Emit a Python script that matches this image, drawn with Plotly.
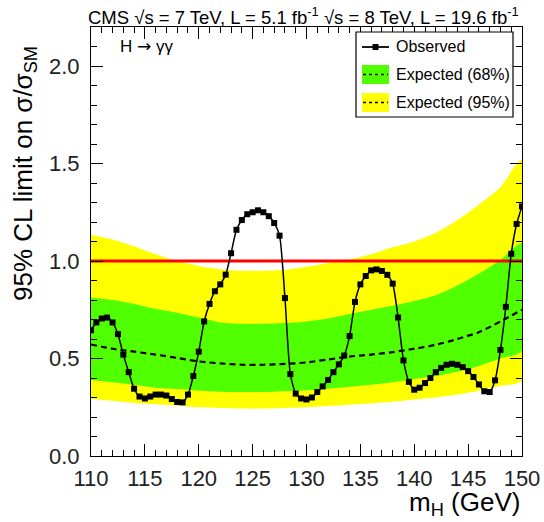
import plotly.graph_objects as go

# ---------------- data ----------------
mass_obs = [110 + 0.5 * i for i in range(81)]
observed = [
    0.645, 0.685, 0.705, 0.71, 0.685, 0.625, 0.52, 0.43, 0.345, 0.305,
    0.295, 0.305, 0.315, 0.315, 0.31, 0.292, 0.277, 0.275, 0.315, 0.41,
    0.535, 0.69, 0.78, 0.845, 0.88, 0.93, 1.04, 1.16, 1.21, 1.24,
    1.25, 1.26, 1.25, 1.23, 1.195, 1.13, 0.81, 0.42, 0.32, 0.295,
    0.29, 0.30, 0.328, 0.357, 0.39, 0.43, 0.47, 0.515, 0.615, 0.79,
    0.88, 0.923, 0.952, 0.957, 0.949, 0.929, 0.884, 0.71, 0.49, 0.38,
    0.34, 0.35, 0.374, 0.40, 0.43, 0.452, 0.468, 0.473, 0.468, 0.456,
    0.435, 0.405, 0.367, 0.332, 0.328, 0.388, 0.544, 0.765, 1.037, 1.19,
    1.28,
]

mass_exp = [110, 112, 114, 116, 118, 120, 122, 124, 126, 128, 130,
            132, 134, 136, 138, 140, 142, 144, 146, 148, 150]
exp_median = [0.572, 0.55, 0.535, 0.52, 0.503, 0.485, 0.475, 0.468, 0.468, 0.472, 0.48,
              0.495, 0.51, 0.52, 0.533, 0.55, 0.57, 0.60, 0.635, 0.69, 0.75]
exp_68_hi = [0.813, 0.80, 0.78, 0.755, 0.735, 0.71, 0.685, 0.678, 0.678, 0.682, 0.69,
             0.705, 0.728, 0.75, 0.77, 0.795, 0.825, 0.875, 0.935, 1.005, 1.09]
exp_68_lo = [0.39, 0.378, 0.365, 0.35, 0.343, 0.335, 0.33, 0.328, 0.328, 0.332, 0.337,
             0.345, 0.355, 0.365, 0.378, 0.395, 0.41, 0.432, 0.462, 0.50, 0.54]
exp_95_hi = [1.136, 1.11, 1.075, 1.035, 1.0, 0.975, 0.958, 0.95, 0.95, 0.955, 0.97,
             0.99, 1.008, 1.035, 1.07, 1.10, 1.145, 1.21, 1.29, 1.38, 1.52]
exp_95_lo = [0.294, 0.283, 0.272, 0.265, 0.258, 0.25, 0.246, 0.243, 0.243, 0.246, 0.25,
             0.256, 0.263, 0.27, 0.278, 0.29, 0.30, 0.315, 0.335, 0.36, 0.39]

sm_line_x = [110, 150]
sm_line_y = [1.0, 1.0]

x_ticks = [110, 115, 120, 125, 130, 135, 140, 145, 150]
y_ticks = [0.0, 0.5, 1.0, 1.5, 2.0]

# ---------------- styles ----------------
FONT = "Liberation Sans, Arial, Helvetica, sans-serif"
YELLOW = "#FFFF00"
GREEN = "#50FF00"
W, H = 544, 522
L, R, T, B = 91, 22, 27, 66
PW, PH = W - L - R, H - T - B


def px(xp):
    return (xp - L) / PW


def py(yp):
    return (H - B - yp) / PH


fig = go.Figure()

# 95% band
fig.add_trace(go.Scatter(
    x=mass_exp + mass_exp[::-1], y=exp_95_hi + exp_95_lo[::-1],
    fill="toself", fillcolor=YELLOW, mode="lines",
    line=dict(width=0, color=YELLOW, shape="spline", smoothing=0.8),
    hoverinfo="skip", showlegend=False))
# 68% band
fig.add_trace(go.Scatter(
    x=mass_exp + mass_exp[::-1], y=exp_68_hi + exp_68_lo[::-1],
    fill="toself", fillcolor=GREEN, mode="lines",
    line=dict(width=0, color=GREEN, shape="spline", smoothing=0.8),
    hoverinfo="skip", showlegend=False))
# median expected
fig.add_trace(go.Scatter(
    x=mass_exp, y=exp_median, mode="lines",
    line=dict(color="black", width=2.2, dash="6px,4px", shape="spline", smoothing=0.8),
    showlegend=False))
# SM line
fig.add_trace(go.Scatter(
    x=sm_line_x, y=sm_line_y, mode="lines",
    line=dict(color="#FF0000", width=3), showlegend=False))
# observed
fig.add_trace(go.Scatter(
    x=mass_obs, y=observed, mode="lines+markers",
    line=dict(color="black", width=1.5, shape="spline", smoothing=0.6),
    marker=dict(symbol="square", size=6, color="black"),
    showlegend=False))

axis_common = dict(
    showgrid=False, zeroline=False, showline=True, linecolor="black", linewidth=1.2,
    mirror="ticks", ticks="inside", ticklen=12, tickwidth=1.2, tickcolor="black",
    tickfont=dict(family=FONT, size=22, color="#222"), automargin=False,
)
fig.update_xaxes(range=[110, 150], tickvals=x_ticks, ticktext=[str(v) for v in x_ticks],
                 minor=dict(dtick=1, ticks="inside", ticklen=6, tickcolor="black", tickwidth=1),
                 ticklabelstandoff=2, **axis_common)
fig.update_yaxes(range=[0, 2.2], tickvals=y_ticks, ticktext=[f"{v:.1f}" for v in y_ticks],
                 minor=dict(dtick=0.1, ticks="inside", ticklen=6, tickcolor="black", tickwidth=1),
                 ticklabelstandoff=6, **axis_common)

shapes = []
annotations = []

# manual legend
shapes.append(dict(type="rect", xref="paper", yref="paper",
                   x0=px(356), x1=px(513), y0=py(117), y1=py(32),
                   line=dict(color="black", width=1.2), fillcolor="white", layer="above"))
# observed entry
shapes.append(dict(type="line", xref="paper", yref="paper",
                   x0=px(362), x1=px(389), y0=py(47), y1=py(47),
                   line=dict(color="black", width=1.8), layer="above"))
shapes.append(dict(type="rect", xref="paper", yref="paper",
                   x0=px(372.5), x1=px(378.5), y0=py(50), y1=py(44),
                   line=dict(width=0), fillcolor="black", layer="above"))
# 68% entry
shapes.append(dict(type="rect", xref="paper", yref="paper",
                   x0=px(362), x1=px(389), y0=py(84), y1=py(65),
                   line=dict(width=0), fillcolor=GREEN, layer="above"))
shapes.append(dict(type="line", xref="paper", yref="paper",
                   x0=px(363), x1=px(388), y0=py(74.5), y1=py(74.5),
                   line=dict(color="black", width=1.5, dash="dot"), layer="above"))
# 95% entry
shapes.append(dict(type="rect", xref="paper", yref="paper",
                   x0=px(362), x1=px(389), y0=py(112), y1=py(93),
                   line=dict(width=0), fillcolor=YELLOW, layer="above"))
shapes.append(dict(type="line", xref="paper", yref="paper",
                   x0=px(363), x1=px(388), y0=py(102.5), y1=py(102.5),
                   line=dict(color="black", width=1.5, dash="dot"), layer="above"))

for label, yc in [("Observed", 47), ("Expected (68%)", 74.5), ("Expected (95%)", 102.5)]:
    annotations.append(dict(text=label, xref="paper", yref="paper", x=px(394), y=py(yc),
                            xanchor="left", yanchor="middle", showarrow=False,
                            font=dict(family=FONT, size=16, color="black")))

annotations.append(dict(
    text="H <span style=\"font-family:'DejaVu Sans'\">→</span> γγ",
    xref="paper", yref="paper", x=px(118), y=py(46),
    xanchor="left", yanchor="middle", showarrow=False,
    font=dict(family=FONT, size=17, color="black")))

annotations.append(dict(
    text="CMS √s = 7 TeV, L = 5.1 fb<sup>-1</sup> √s = 8 TeV, L = 19.6 fb<sup>-1</sup>",
    xref="paper", yref="paper", x=px(521), y=py(2), xanchor="right", yanchor="top",
    showarrow=False, font=dict(family=FONT, size=18.5, color="black")))

annotations.append(dict(
    text="m<sub>H</sub> (GeV)", xref="paper", yref="paper", x=px(522), y=py(522),
    xanchor="right", yanchor="bottom", showarrow=False,
    font=dict(family=FONT, size=26, color="black")))

annotations.append(dict(
    text="95% CL limit on σ/σ<sub>SM</sub>", xref="paper", yref="paper", x=px(6), y=py(303),
    xanchor="left", yanchor="bottom", textangle=-90, showarrow=False,
    font=dict(family=FONT, size=26, color="black")))

fig.update_layout(
    width=W, height=H, margin=dict(l=L, r=R, t=T, b=B, pad=0),
    paper_bgcolor="white", plot_bgcolor="white",
    shapes=shapes, annotations=annotations, showlegend=False,
    font=dict(family=FONT),
)

fig.write_html("out.html", config={"displayModeBar": False},
               post_script="document.body.style.margin='0px';document.body.style.padding='0px';")
